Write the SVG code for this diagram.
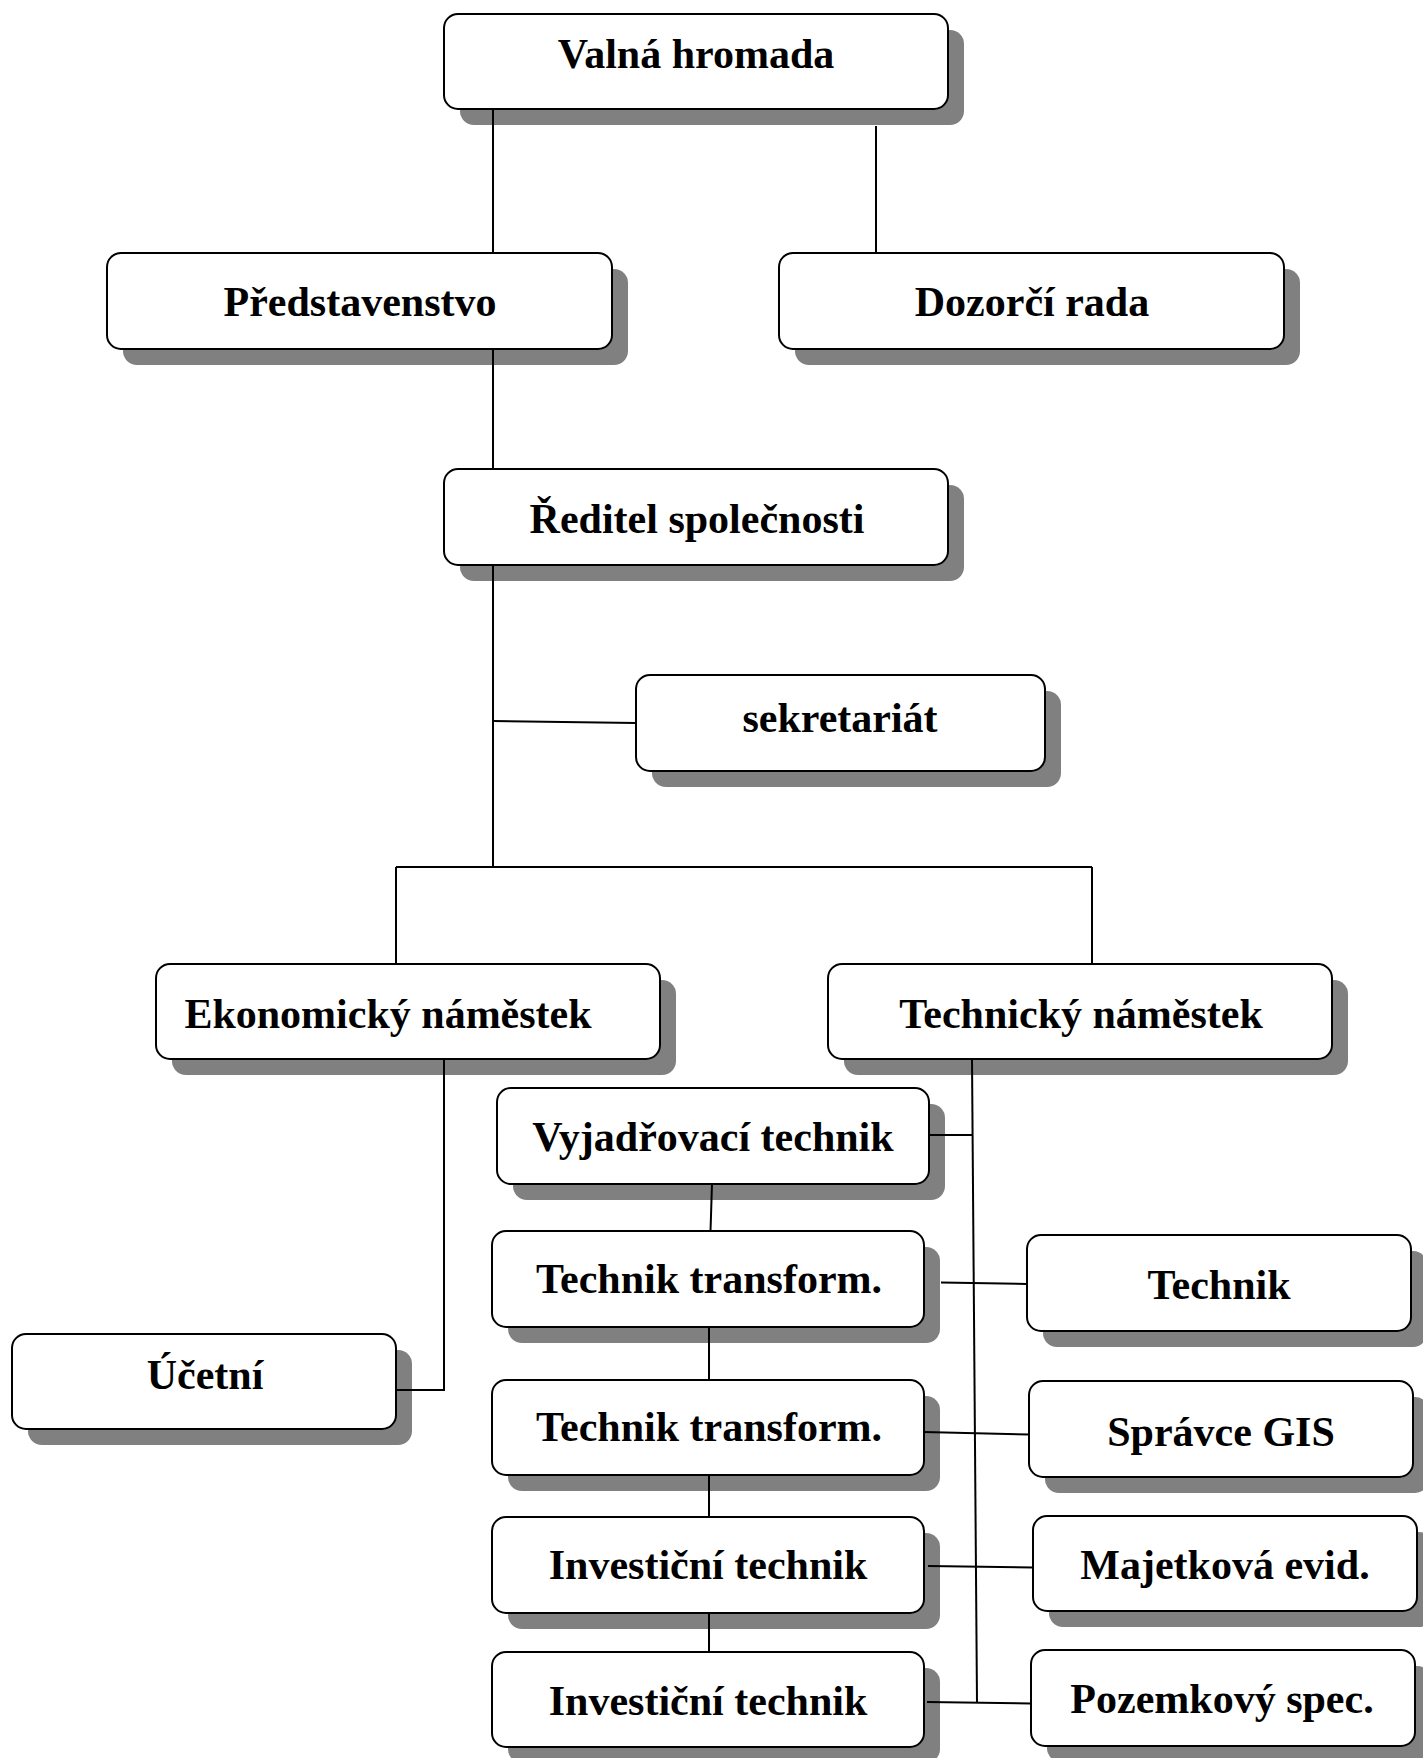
<svg xmlns="http://www.w3.org/2000/svg" width="1423" height="1758" viewBox="0 0 1423 1758">
<style>
.sh{fill:#808080;stroke:none}
.bx{fill:#fff;stroke:#000;stroke-width:2}
.t{font-family:"Liberation Serif","Times New Roman",serif;font-weight:bold;font-size:42px;fill:#000;text-anchor:middle}
.c{fill:none;stroke:#000;stroke-width:2}
</style>
<rect width="1423" height="1758" fill="#fff"/>
<g id="nodes">
<g id="valna"><rect class="sh" x="460" y="30" width="504" height="95" rx="14"/><rect class="bx" x="444" y="14" width="504" height="95" rx="14"/><text class="t" x="696" y="68">Valná hromada</text></g>
<g id="predstavenstvo"><rect class="sh" x="123" y="269" width="505" height="96" rx="14"/><rect class="bx" x="107" y="253" width="505" height="96" rx="14"/><text class="t" x="360" y="316">Představenstvo</text></g>
<g id="dozorci"><rect class="sh" x="795" y="269" width="505" height="96" rx="14"/><rect class="bx" x="779" y="253" width="505" height="96" rx="14"/><text class="t" x="1032" y="316">Dozorčí rada</text></g>
<g id="reditel"><rect class="sh" x="460" y="485" width="504" height="96" rx="14"/><rect class="bx" x="444" y="469" width="504" height="96" rx="14"/><text class="t" x="697" y="533">Ředitel společnosti</text></g>
<g id="sekretariat"><rect class="sh" x="652" y="691" width="409" height="96" rx="14"/><rect class="bx" x="636" y="675" width="409" height="96" rx="14"/><text class="t" x="840" y="732">sekretariát</text></g>
<g id="ekonomicky"><rect class="sh" x="172" y="980" width="504" height="95" rx="14"/><rect class="bx" x="156" y="964" width="504" height="95" rx="14"/><text class="t" x="388" y="1028">Ekonomický náměstek</text></g>
<g id="technicky"><rect class="sh" x="844" y="980" width="504" height="95" rx="14"/><rect class="bx" x="828" y="964" width="504" height="95" rx="14"/><text class="t" x="1081" y="1028">Technický náměstek</text></g>
<g id="vyjadrovaci"><rect class="sh" x="513" y="1104" width="432" height="96" rx="14"/><rect class="bx" x="497" y="1088" width="432" height="96" rx="14"/><text class="t" x="713" y="1151">Vyjadřovací technik</text></g>
<g id="transform1"><rect class="sh" x="508" y="1247" width="432" height="96" rx="14"/><rect class="bx" x="492" y="1231" width="432" height="96" rx="14"/><text class="t" x="709" y="1293">Technik transform.</text></g>
<g id="transform2"><rect class="sh" x="508" y="1396" width="432" height="95" rx="14"/><rect class="bx" x="492" y="1380" width="432" height="95" rx="14"/><text class="t" x="709" y="1441">Technik transform.</text></g>
<g id="investicni1"><rect class="sh" x="508" y="1533" width="432" height="96" rx="14"/><rect class="bx" x="492" y="1517" width="432" height="96" rx="14"/><text class="t" x="708" y="1579">Investiční technik</text></g>
<g id="investicni2"><rect class="sh" x="508" y="1668" width="432" height="95" rx="14"/><rect class="bx" x="492" y="1652" width="432" height="95" rx="14"/><text class="t" x="708" y="1715">Investiční technik</text></g>
<g id="ucetni"><rect class="sh" x="28" y="1350" width="384" height="95" rx="14"/><rect class="bx" x="12" y="1334" width="384" height="95" rx="14"/><text class="t" x="205" y="1389">Účetní</text></g>
<g id="technik"><rect class="sh" x="1043" y="1251" width="384" height="96" rx="14"/><rect class="bx" x="1027" y="1235" width="384" height="96" rx="14"/><text class="t" x="1219" y="1299">Technik</text></g>
<g id="spravce"><rect class="sh" x="1045" y="1397" width="384" height="96" rx="14"/><rect class="bx" x="1029" y="1381" width="384" height="96" rx="14"/><text class="t" x="1221" y="1446">Správce GIS</text></g>
<g id="majetkova"><rect class="sh" x="1049" y="1532" width="384" height="95" rx="14"/><rect class="bx" x="1033" y="1516" width="384" height="95" rx="14"/><text class="t" x="1225" y="1579">Majetková evid.</text></g>
<g id="pozemkovy"><rect class="sh" x="1047" y="1666" width="384" height="96" rx="14"/><rect class="bx" x="1031" y="1650" width="384" height="96" rx="14"/><text class="t" x="1222" y="1713">Pozemkový spec.</text></g>
</g>
<g id="connectors" class="c">
<path class="c" d="M493 109V253"/>
<path class="c" d="M876 126V253"/>
<path class="c" d="M493 349V469"/>
<path class="c" d="M493 565V867"/>
<path class="c" d="M396 867H1092"/>
<path class="c" d="M396 867V964"/>
<path class="c" d="M1092 867V964"/>
<path class="c" d="M493 721L636 723"/>
<path class="c" d="M444 1059V1390H396"/>
<path class="c" d="M972 1059L977 1703"/>
<path class="c" d="M930 1135H972"/>
<path class="c" d="M941 1282.5L1027 1284"/>
<path class="c" d="M924 1432L1029 1434.5"/>
<path class="c" d="M928 1566L1033 1567.5"/>
<path class="c" d="M927 1702L1031 1703.5"/>
<path class="c" d="M712 1184L710.5 1231"/>
<path class="c" d="M709 1327V1380"/>
<path class="c" d="M709 1475V1517"/>
<path class="c" d="M709 1613V1652"/>
</g>
</svg>
